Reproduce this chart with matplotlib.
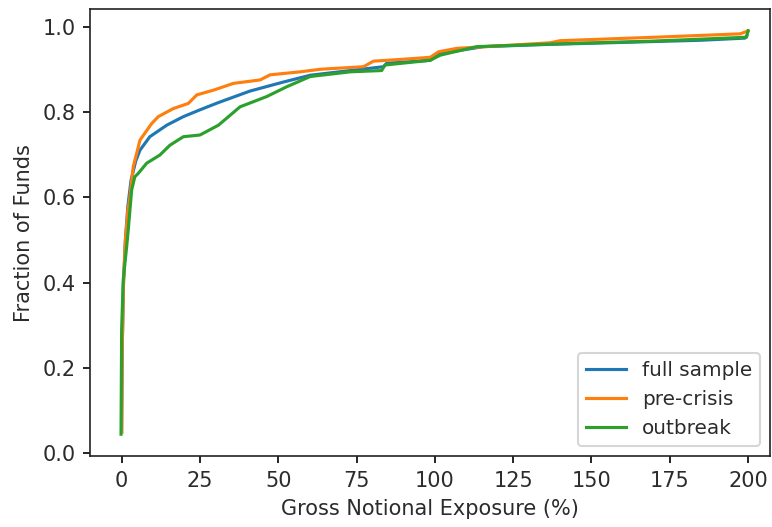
#!/usr/bin/env python3
"""Cumulative distribution of gross notional exposure across fund samples."""

import matplotlib
matplotlib.use("Agg")
import matplotlib.pyplot as plt

# values (exposure in %, cumulative fraction)
full_x = [0, 0.2, 0.6, 1.2, 2.0, 3.0, 4.5, 5.9, 9, 14.4, 19.7, 25, 30.9, 41,
          51.6, 60.2, 73, 83.6, 84.6, 98.5, 101.7, 115.5, 135, 160, 185, 199, 199.5]
full_y = [0.05, 0.25, 0.40, 0.50, 0.58, 0.64, 0.685, 0.711, 0.742, 0.769, 0.789,
          0.805, 0.822, 0.849, 0.870, 0.886, 0.897, 0.906, 0.914, 0.921, 0.937,
          0.953, 0.958, 0.963, 0.968, 0.973, 0.978]

pre_x = [0, 0.2, 0.6, 1.2, 2.0, 2.65, 3.7, 4.8, 5.85, 9.6, 11.7, 16.5, 21.3, 24,
         29.3, 35.7, 44.2, 47.4, 57, 63.4, 77.2, 80.4, 88.9, 98.5, 101.2, 107,
         136.8, 140, 170, 197.5, 200]
pre_y = [0.05, 0.25, 0.40, 0.50, 0.57, 0.601, 0.672, 0.703, 0.734, 0.773, 0.789,
         0.808, 0.820, 0.840, 0.851, 0.867, 0.875, 0.887, 0.894, 0.900, 0.906,
         0.919, 0.923, 0.928, 0.941, 0.949, 0.962, 0.967, 0.975, 0.983, 0.99]

out_x = [-0.2, 0, 0.5, 1.6, 2.1, 3.2, 4.2, 5.3, 8, 12.2, 15.4, 19.7, 25, 30.9,
         37.8, 46.3, 52.7, 60.2, 73, 83, 84.1, 98.5, 101.7, 113.4, 136.8, 170,
         199.5, 200]
out_y = [0.045, 0.29, 0.406, 0.484, 0.523, 0.617, 0.648, 0.656, 0.68, 0.699,
         0.722, 0.742, 0.746, 0.769, 0.812, 0.836, 0.859, 0.883, 0.894, 0.897,
         0.910, 0.921, 0.933, 0.953, 0.959, 0.966, 0.975, 0.99]

SERIES = [
    ("full sample", full_x, full_y, "#1f77b4"),
    ("pre-crisis", pre_x, pre_y, "#ff7f0e"),
    ("outbreak", out_x, out_y, "#2ca02c"),
]


def main() -> None:
    dpi = 150
    plt.rcParams["text.color"] = "#2b2b2b"
    plt.rcParams["axes.labelcolor"] = "#2b2b2b"
    plt.rcParams["xtick.labelcolor"] = "#2b2b2b"
    plt.rcParams["ytick.labelcolor"] = "#2b2b2b"
    plt.rcParams["axes.edgecolor"] = "#222222"
    fig = plt.figure(figsize=(772 / dpi, 527 / dpi), dpi=dpi)
    ax = fig.add_axes([90 / 772, (527 - 456) / 527, 680 / 772, (456 - 9.3) / 527])
    for label, xs, ys, color in SERIES:
        ax.plot(xs, ys, color=color, linewidth=1.5, label=label)
    ax.set_xlim(-10.1, 207)
    ax.set_ylim(-0.006, 1.0405)
    ax.set_xticks([0, 25, 50, 75, 100, 125, 150, 175, 200])
    ax.set_xlabel("Gross Notional Exposure (%)")
    ax.set_ylabel("Fraction of Funds")
    ax.legend(loc="lower right", fontsize=9.6)
    fig.savefig("out.png", dpi=dpi)
    plt.close(fig)


if __name__ == "__main__":
    main()
